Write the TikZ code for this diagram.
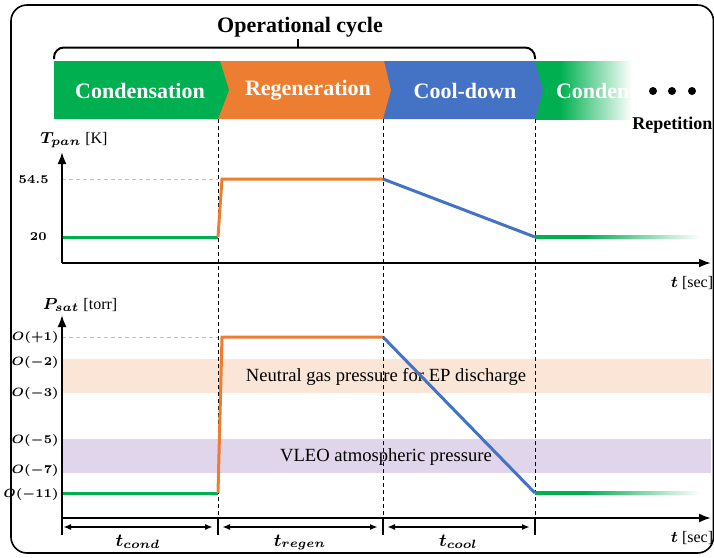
\documentclass[tikz,border=0pt]{standalone}
\usepackage{fontspec}
\setmainfont{Liberation Serif}
\usepackage{bm}
\usetikzlibrary{arrows.meta,positioning,calc}
\definecolor{condgreen}{HTML}{00B050}
\definecolor{regenorange}{HTML}{ED7D31}
\definecolor{coolblue}{HTML}{4472C4}
\definecolor{epband}{HTML}{FBE5D6}
\definecolor{vleoband}{HTML}{E1D5EB}
% fading green, solid at first
\pgfdeclarehorizontalshading{bannerfade}{100bp}{color(0bp)=(condgreen); color(25bp)=(condgreen); color(38bp)=(condgreen); color(75bp)=(white); color(100bp)=(white)}
\pgfdeclarehorizontalshading{linefade}{100bp}{color(0bp)=(condgreen); color(25bp)=(condgreen); color(40bp)=(condgreen); color(75bp)=(white); color(100bp)=(white)}
\tikzset{
	phase/.style = {text=white, font=\fontsize{11}{13}\selectfont\bfseries}, % white labels of the banner
	axis/.style = {-{Latex[length=6pt,width=4.5pt]}, line width=1pt},
	guide/.style = {dash pattern=on 2pt off 1.5pt, line width=0.5pt}, % phase borders
	level/.style = {dash pattern=on 2pt off 1.5pt, black!25, line width=0.5pt},
	curve/.style = {line width=1.5pt},
	span/.style = {{Latex[length=4pt,width=3pt]}-{Latex[length=4pt,width=3pt]}, line width=0.9pt},
	ticklab/.style = {font=\fontsize{6.2}{7}\selectfont, anchor=east, inner sep=0pt},
	axlab/.style = {font=\fontsize{8}{10}\selectfont},
	bandlab/.style = {font=\fontsize{9.3}{11}\selectfont}
}

\begin{document}
\begin{tikzpicture}[x=0.5pt,y=-0.5pt]
	\useasboundingbox (0,0) rectangle (714,558);
	\draw[line width=0.8pt, rounded corners=8pt] (11,5) rectangle (713.5,553);
	% title and brace
	\node[font=\fontsize{11}{13}\selectfont\bfseries] (title) at (300,27) {Operational cycle};
	\draw[line width=1pt, rounded corners=5pt] (54,59) -- (54,47.5) -- (535,47.5) -- (535,59);
	\draw[line width=1pt] (298,47.5) -- (298,39);
	% banner
	\shade[shading=bannerfade] (535,61) rectangle (632,119);
	\fill[coolblue] (383,61) -- (535,61) -- (543,90) -- (535,119) -- (383,119) -- cycle;
	\fill[regenorange] (218,61) -- (384,61) -- (391,90) -- (383,119) -- (218,119) -- cycle;
	\fill[condgreen] (54,61) -- (220,61) -- (229,90) -- (218,119) -- (54,119) -- cycle;
	\node[phase] (cond) at (140,91) {Condensation};
	\node[phase] (regen) at (308,90) {Regeneration};
	\node[phase] (cool) at (465,91) {Cool-down};
	\begin{scope}
		\clip (535,61) rectangle (632,119);
		\node[phase, anchor=west] (next) at (549,91) {Condensation};
	\end{scope}
	\foreach \x in {653,672,692}
		\fill (\x,91) circle[radius=2pt];
	\node[font=\fontsize{9}{11}\selectfont\bfseries, anchor=west, inner sep=0pt] (rep) at (632,125) {Repetition};
	% bands of the pressure plot
	\fill[epband] (62,359) rectangle (711,393);
	\fill[vleoband] (62,439) rectangle (711,473);
	\node[bandlab] (ep) at (386,377) {Neutral gas pressure for EP discharge};
	\node[bandlab] (vleo) at (386,457) {VLEO atmospheric pressure};
	% phase borders
	\foreach \x/\n in {218/b,383/c,535/d} {
		\coordinate (g\n) at (\x,119);
		\coordinate (k\n) at (\x,518);
		\coordinate (e\n) at (\x,535);
		\draw[guide] (g\n) -- (k\n);
		\draw[line width=0.6pt] (k\n) -- (e\n);
	}
	\coordinate (ka) at (62,518);
	\coordinate (ea) at (62,535);
	\draw[line width=0.6pt] (ka) -- (ea);
	% temperature plot
	\coordinate (To) at (62,263);
	\coordinate (Ty) at (62,152);
	\coordinate (Tx) at (711,263);
	\coordinate (T1) at (62,237);
	\coordinate (T2) at (218,237);
	\coordinate (T3) at (222,179);
	\coordinate (T4) at (383,179);
	\coordinate (T5) at (535,237);
	\coordinate (Th) at (62,179);
	\draw[level] (Th) -- (218,179);
	\draw[curve, condgreen] (T1) -- (T2);
	\draw[curve, regenorange] (T2) -- (T3) -- (T4);
	\draw[curve, coolblue] (T4) -- (T5);
	\shade[shading=linefade] (535,235.5) rectangle (700,238.5);
	\draw[axis] (To) -- (Ty);
	\draw[axis] (To) -- (Tx);
	\node[axlab] (Tlab) at (74,140) {$\bm{T_{pan}}$ [K]};
	\node[axlab] (tlab1) at (692,283) {$\bm{t}$ [sec]};
	\node[ticklab] (t545) at (49,180) {$\bm{54.5}$};
	\node[ticklab] (t20) at (47,237) {$\bm{20}$};
	% pressure plot
	\coordinate (Po) at (62,518);
	\coordinate (Py) at (62,315);
	\coordinate (Px) at (711,518);
	\coordinate (P1) at (62,493);
	\coordinate (P2) at (218,493);
	\coordinate (P3) at (222,337);
	\coordinate (P4) at (383,337);
	\coordinate (P5) at (535,493);
	\coordinate (Ph) at (62,337);
	\draw[level] (Ph) -- (218,337);
	\draw[curve, condgreen] (P1) -- (P2);
	\draw[curve, regenorange] (P2) -- (P3) -- (P4);
	\draw[curve, coolblue] (P4) -- (P5);
	\shade[shading=linefade] (535,491.5) rectangle (700,494.5);
	\draw[axis] (Po) -- (Py);
	\draw[axis] (Po) -- (Px);
	\node[axlab] (Plab) at (80,305) {$\bm{P_{sat}}$ [torr]};
	\node[axlab] (tlab2) at (692,538) {$\bm{t}$ [sec]};
	\foreach \y/\v in {337/+1,362/-2,393/-3,440/-5,470/-7,494/-11}
		\node[ticklab, font=\fontsize{5.8}{7}\selectfont] (p\y) at (59,\y) {$\bm{O(\v)}$};
	% durations
	\coordinate (s1) at (63,527);
	\coordinate (s2) at (213,527);
	\coordinate (s3) at (222,527);
	\coordinate (s4) at (378,527);
	\coordinate (s5) at (387,527);
	\coordinate (s6) at (530,527);
	\draw[span] (s1) -- node[below=0pt, font=\fontsize{9}{11}\selectfont] (tcond) {$\bm{t_{cond}}$} (s2);
	\draw[span] (s3) -- node[below=0pt, font=\fontsize{9}{11}\selectfont] (tregen) {$\bm{t_{regen}}$} (s4);
	\draw[span] (s5) -- node[below=0pt, font=\fontsize{9}{11}\selectfont] (tcool) {$\bm{t_{cool}}$} (s6);
\end{tikzpicture}
\end{document}
